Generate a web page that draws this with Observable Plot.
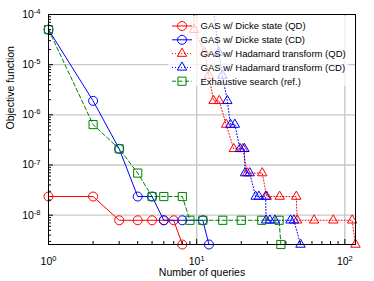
<!DOCTYPE html>
<html><head><meta charset="utf-8">
<script src="https://cdn.jsdelivr.net/npm/d3@7"></script>
<script src="https://cdn.jsdelivr.net/npm/@observablehq/plot@0.6"></script>
<style>body{margin:0;background:#fff}</style>
</head><body><div id="chart"></div>
<script>
// ---- data ----
const seriesNames = [
  "GAS w/ Dicke state (QD)",
  "GAS w/ Dicke state (CD)",
  "GAS w/ Hadamard transform (QD)",
  "GAS w/ Hadamard transform (CD)",
  "Exhaustive search (ref.)"
];
const seriesColors = ["#ff0000", "#0000ff", "#ff0000", "#0000ff", "#008000"];
const seriesSymbols = ["circle", "circle", "triangle", "triangle", "square"];
const seriesDash = [null, null, "1,2", "1,2", "4,2.5"];

const dickeQD_x = [1, 2, 3, 4, 5, 6, 7, 8];
const dickeQD_y = [2.35e-8, 2.35e-8, 7.9e-9, 7.9e-9, 7.9e-9, 7.9e-9, 7.9e-9, 2.6e-9];

const dickeCD_x = [1, 2, 3, 4, 5, 6, 8, 11, 12.1];
const dickeCD_y = [5.0e-5, 1.9e-6, 2.1e-7, 2.35e-8, 2.35e-8, 7.9e-9, 7.9e-9, 7.9e-9, 2.6e-9];

const hadQD_x = [9.6, 9.6, 11.3, 12.1, 13, 14.2, 15.8, 17.8, 20.5, 21.9, 27.7, 29.7, 36.3, 47, 47.7, 62, 83.5, 112, 118];
const hadQD_y = [1.5e-4, 5.0e-5, 1.75e-5, 6.1e-6, 1.9e-6, 1.9e-6, 6.4e-7, 2.1e-7, 2.1e-7, 6.9e-8, 6.9e-8, 2.35e-8, 2.35e-8, 2.35e-8, 7.9e-9, 7.9e-9, 7.9e-9, 7.9e-9, 2.6e-9];

const hadCD_x = [13, 14.1, 14.9, 16.1, 16.9, 18.1, 19.6, 21, 21.2, 22.8, 25, 26.3, 29.2, 29.4, 31.2, 33.7, 43, 45.3, 50.2];
const hadCD_y = [1.2e-4, 1.75e-5, 6.1e-6, 1.9e-6, 6.4e-7, 6.4e-7, 2.1e-7, 2.1e-7, 6.9e-8, 6.9e-8, 2.35e-8, 2.35e-8, 2.35e-8, 7.9e-9, 7.9e-9, 7.9e-9, 7.9e-9, 7.9e-9, 2.6e-9];

const exh_x = [1, 2, 3, 4, 5, 6, 8, 9, 11, 15, 20, 27.5, 36, 37];
const exh_y = [5.0e-5, 6.4e-7, 2.1e-7, 6.9e-8, 2.35e-8, 2.35e-8, 2.35e-8, 7.9e-9, 7.9e-9, 7.9e-9, 7.9e-9, 7.9e-9, 7.9e-9, 2.6e-9];

const xTickValues = [1, 10, 100];
const yTickValues = [1e-4, 1e-5, 1e-6, 1e-7, 1e-8];
const xDomain = [1, 118];
const yDomain = [2.6e-9, 1e-4];

// ---- build table ----
const seriesX = [dickeQD_x, dickeCD_x, hadQD_x, hadCD_x, exh_x];
const seriesY = [dickeQD_y, dickeCD_y, hadQD_y, hadCD_y, exh_y];
const series = seriesNames.map((name, i) => seriesX[i].map((x, j) => ({x, y: seriesY[i][j], s: i})));

const minorX = [];
for (const d of [1, 10, 100]) for (let k = 2; k <= 9; k++) if (d * k <= xDomain[1]) minorX.push(d * k);
const minorY = [];
for (const d of [1e-9, 1e-8, 1e-7, 1e-6, 1e-5]) for (let k = 2; k <= 9; k++) { const v = d * k; if (v >= yDomain[0] && v <= yDomain[1]) minorY.push(v); }

const W = 374, H = 281, mL = 48, mR = 19, mT = 14, mB = 37;
const fw = W - mL - mR, fh = H - mT - mB;
const supFmt = d => "10^" + Math.round(Math.log10(d));

const marks = [
  Plot.gridX(xTickValues.slice(1), {stroke: "#c8c8c8", strokeOpacity: 1, strokeWidth: 1.4}),
  Plot.gridY(yTickValues.slice(1), {stroke: "#c8c8c8", strokeOpacity: 1, strokeWidth: 1.4}),
];
series.forEach((rows, i) => {
  marks.push(Plot.line(rows, {x: "x", y: "y", stroke: seriesColors[i], strokeWidth: 1,
    strokeDasharray: seriesDash[i], clip: true}));
});
series.forEach((rows, i) => {
  const r = seriesSymbols[i] === "circle" ? 4.5 : seriesSymbols[i] === "square" ? 4.6 : 3.5;
  marks.push(Plot.dot(rows.filter(d => d.y <= yDomain[1]), {x: "x", y: "y", stroke: seriesColors[i],
    fill: "none", strokeWidth: 1, symbol: seriesSymbols[i], r}));
});
marks.push(
  Plot.tickY(yTickValues, {stroke: "black", insetRight: fw - 5}),
  Plot.tickY(minorY, {stroke: "black", insetRight: fw - 3}),
  Plot.tickX(xTickValues, {stroke: "black", insetTop: fh - 5}),
  Plot.tickX(minorX, {stroke: "black", insetTop: fh - 3}),
  Plot.frame({stroke: "black", strokeWidth: 1}),
  Plot.axisX(xTickValues, {tickSize: 0, tickPadding: 13, tickFormat: supFmt, fontSize: 10.5, label: null}),
  Plot.axisY(yTickValues, {tickSize: 0, tickPadding: 8, tickFormat: supFmt, fontSize: 10.5, label: null}),
  Plot.text(["Number of queries"], {frameAnchor: "bottom", dy: 31, fontSize: 10.5, fill: "black"}),
  Plot.text(["Objective function"], {frameAnchor: "left", dx: -38, rotate: -90, fontSize: 10.5, fill: "black"})
);

const plot = Plot.plot({
  width: W, height: H,
  marginLeft: mL, marginRight: mR, marginTop: mT, marginBottom: mB,
  style: {fontFamily: "'Liberation Sans', Arial, sans-serif", fontSize: "10.5px", background: "white", color: "black"},
  x: {type: "log", domain: xDomain},
  y: {type: "log", domain: yDomain},
  marks
});

// superscript exponents in tick labels
d3.select(plot).selectAll("text").each(function() {
  const t = this.textContent;
  const m = /^10\^(-?\d+)$/.exec(t);
  if (!m) return;
  const el = d3.select(this);
  el.text(null);
  el.append("tspan").text("10");
  el.append("tspan").attr("dy", "-0.5em").attr("font-size", "7.5px").text(m[1]);
});

// legend (inside the frame, semi-transparent white box)
const lg = d3.select(plot).append("g").attr("text-anchor", "start");
lg.append("rect").attr("x", 168).attr("y", 16).attr("width", 180).attr("height", 70)
  .attr("fill", "white").attr("fill-opacity", 0.72);
seriesNames.forEach((name, i) => {
  const cy = 26 + i * 13.8;
  const g = lg.append("g");
  const line = g.append("line").attr("x1", 172).attr("x2", 192).attr("y1", cy).attr("y2", cy)
    .attr("stroke", seriesColors[i]).attr("stroke-width", 1);
  if (seriesDash[i]) line.attr("stroke-dasharray", seriesDash[i]);
  const sym = seriesSymbols[i] === "circle" ? d3.symbolCircle : seriesSymbols[i] === "square" ? d3.symbolSquare : d3.symbolTriangle;
  const r = seriesSymbols[i] === "circle" ? 4.5 : seriesSymbols[i] === "square" ? 4.6 : 3.5;
  g.append("path").attr("d", d3.symbol(sym, Math.PI * r * r)()).attr("transform", `translate(182,${cy})`)
    .attr("fill", "none").attr("stroke", seriesColors[i]).attr("stroke-width", 1);
  g.append("text").attr("x", 200.5).attr("y", cy).attr("dy", "0.35em").attr("font-size", "9.5px")
    .attr("text-anchor", "start").attr("fill", "black").text(name);
});

document.getElementById("chart").appendChild(plot);
</script>
</body></html>
